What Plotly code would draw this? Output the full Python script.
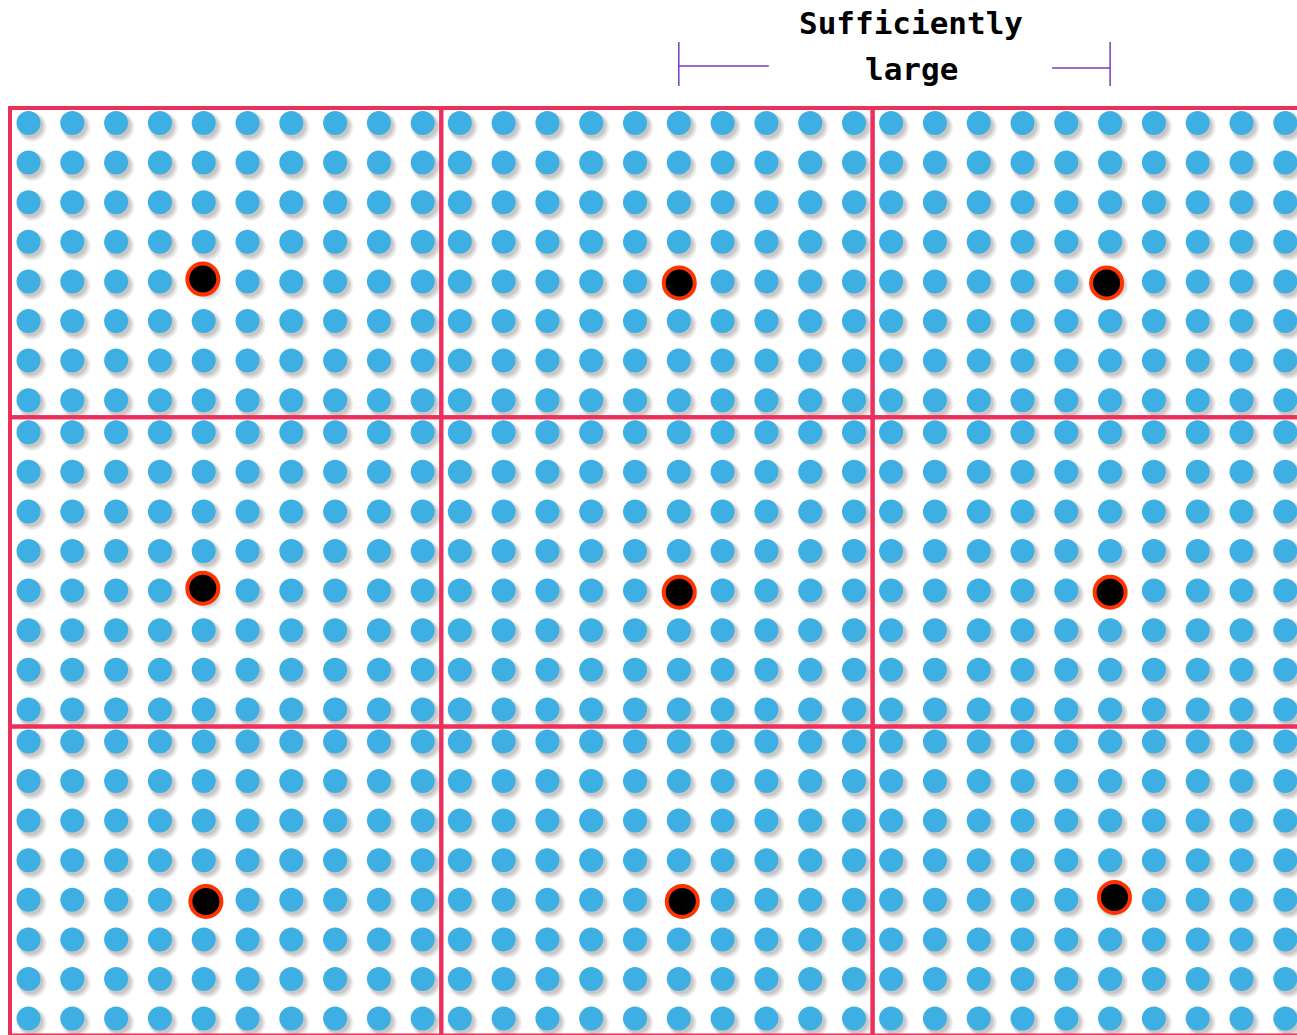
import plotly.graph_objects as go

# ---------------- data ----------------
block_cols = [0, 1, 2]            # blocks across
block_rows = [0, 1, 2]            # blocks down
dot_cols = [0, 1, 2, 3, 4, 5, 6, 7, 8, 9]   # dot columns inside a block
dot_rows = [0, 1, 2, 3, 4, 5, 6, 7]         # dot rows inside a block

# highlighted (black) dot per block: block index + position in dot units
hl_block_col = [0, 1, 2, 0, 1, 2, 0, 1, 2]
hl_block_row = [0, 0, 0, 1, 1, 1, 2, 2, 2]
hl_col = [3.98, 5.01, 4.92, 3.98, 5.01, 5.00, 4.05, 5.08, 5.10]
hl_row = [3.94, 4.04, 4.04, 3.94, 4.04, 4.04, 4.04, 4.04, 3.94]

label_lines = ["Sufficiently", "large"]

# ---------------- geometry (layout) ----------------
W, H = 1297, 1035
X0, DX = 28.5, 43.8          # first dot centre, dot pitch (x)
Y0, DY = 123.0, 39.6         # first dot centre, dot pitch (y)
BW, BH = 431.3, 309.2        # block pitch
RX0, RY0 = 10.0, 108.0       # top-left of first rectangle

BLUE = "#3DAFE2"
FRAME = "#EC2F5B"
RING = "#FF3300"
PURPLE = "#7A3DB8"


def px(bc, c):
    return X0 + bc * BW + c * DX


def py(br, r):
    return Y0 + br * BH + r * DY


xs, ys = [], []
for br in block_rows:
    for r in dot_rows:
        for bc in block_cols:
            for c in dot_cols:
                xs.append(px(bc, c))
                ys.append(py(br, r))

fig = go.Figure()

# soft (blurred) shadows, several translucent layers
for (ox, oy, sz, col) in [(3.5, 4.0, 30, "rgba(0,0,0,0.035)"),
                          (3.5, 4.0, 28, "rgba(0,0,0,0.05)"),
                          (3.0, 3.5, 26, "rgba(0,0,0,0.07)"),
                          (2.5, 3.0, 24, "rgba(0,0,0,0.08)")]:
    fig.add_trace(go.Scatter(
        x=[v + ox for v in xs], y=[v + oy for v in ys], mode="markers",
        marker=dict(size=sz, color=col, line=dict(width=0)),
        hoverinfo="skip", showlegend=False))

fig.add_trace(go.Scatter(
    x=xs, y=ys, mode="markers",
    marker=dict(size=24, color=BLUE, line=dict(width=0)),
    hoverinfo="skip", showlegend=False))

hx = [px(b, c) for b, c in zip(hl_block_col, hl_col)]
hy = [py(b, r) for b, r in zip(hl_block_row, hl_row)]
fig.add_trace(go.Scatter(
    x=hx, y=hy, mode="markers",
    marker=dict(size=31, color="black", line=dict(width=4, color=RING)),
    hoverinfo="skip", showlegend=False))

# block frames
for br in block_rows:
    for bc in block_cols:
        fig.add_shape(type="rect", xref="x", yref="y",
                      x0=RX0 + bc * BW, x1=RX0 + (bc + 1) * BW,
                      y0=RY0 + br * BH, y1=RY0 + (br + 1) * BH,
                      line=dict(color=FRAME, width=4), layer="above")

# bracket "Sufficiently large": from highlighted column of block 2 to block 3
bx0 = px(1, 5.0)
bx1 = px(2, 5.0)
by_top, by_bot, by_mid = 42, 86, 67
for x in (bx0, bx1):
    fig.add_shape(type="line", xref="x", yref="y", x0=x, x1=x, y0=by_top, y1=by_bot,
                  line=dict(color=PURPLE, width=1.5))
fig.add_shape(type="line", xref="x", yref="y", x0=bx0, x1=bx0 + 90, y0=by_mid - 1, y1=by_mid - 1,
              line=dict(color=PURPLE, width=1.5))
fig.add_shape(type="line", xref="x", yref="y", x0=bx1 - 58, x1=bx1, y0=by_mid + 1, y1=by_mid + 1,
              line=dict(color=PURPLE, width=1.5))

cx = (bx0 + bx1) / 2 + 17
for i, t in enumerate(label_lines):
    fig.add_annotation(x=cx, y=23 + i * 46, xref="x", yref="y", text="<b>" + t + "</b>",
                       showarrow=False,
                       font=dict(family="DejaVu Sans Mono", size=31, color="black"),
                       xanchor="center", yanchor="middle")

fig.update_layout(
    width=W, height=H, margin=dict(l=0, r=0, t=0, b=0),
    paper_bgcolor="white", plot_bgcolor="white",
    xaxis=dict(range=[0, W], visible=False, fixedrange=True),
    yaxis=dict(range=[H, 0], visible=False, fixedrange=True),
    showlegend=False,
)

fig.write_html("out.html", post_script="document.body.style.margin='0';",
               config={"displayModeBar": False})
